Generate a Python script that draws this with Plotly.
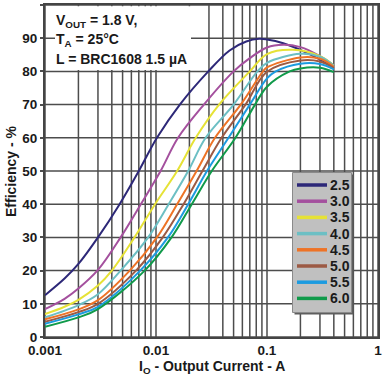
import math
import plotly.graph_objects as go

# ---------------- data ----------------
series_names = ["2.5", "3.0", "3.5", "4.0", "4.5", "5.0", "5.5", "6.0"]

i_25 = [0.001, 0.0015, 0.002, 0.003, 0.0047, 0.007, 0.0102, 0.0164, 0.0296, 0.046, 0.065, 0.085, 0.1, 0.14, 0.2, 0.3, 0.4]
e_25 = [12.6, 17.6, 22.0, 30, 40, 50, 60, 70, 80, 86.3, 89.0, 89.8, 89.6, 88.5, 86.5, 83.6, 81.5]

i_30 = [0.001, 0.0015, 0.002, 0.003, 0.0048, 0.0073, 0.011, 0.0158, 0.027, 0.05, 0.07, 0.1, 0.14, 0.2, 0.3, 0.4]
e_30 = [8.4, 11.5, 14.6, 20.2, 30, 40, 50, 60, 70, 80, 84, 87.2, 88.0, 87.3, 84.6, 81.8]

i_35 = [0.001, 0.0015, 0.002, 0.003, 0.004, 0.0064, 0.0098, 0.0155, 0.0228, 0.037, 0.07, 0.1, 0.17, 0.3, 0.4]
e_35 = [6.9, 9.1, 11.2, 15.5, 20, 30, 40, 50, 60, 70, 80, 85.2, 86.5, 84.6, 81.8]

i_40 = [0.001, 0.002, 0.003, 0.0048, 0.0085, 0.013, 0.0195, 0.028, 0.05, 0.082, 0.1, 0.2, 0.3, 0.4]
e_40 = [5.9, 9.6, 12.9, 20, 30, 40, 50, 60, 70, 80, 82.6, 85.3, 84.4, 81.7]

i_45 = [0.001, 0.002, 0.003, 0.0058, 0.0102, 0.0155, 0.0232, 0.034, 0.058, 0.092, 0.1, 0.2, 0.3, 0.4]
e_45 = [5.3, 8.3, 11.1, 20, 30, 40, 50, 60, 70, 80, 81.2, 84.2, 83.8, 81.4]

i_50 = [0.001, 0.002, 0.003, 0.0066, 0.0115, 0.0177, 0.0262, 0.039, 0.064, 0.1, 0.2, 0.3, 0.4]
e_50 = [4.6, 7.5, 10.0, 20, 30, 40, 50, 60, 70, 79.9, 83.3, 83.0, 81.0]

i_55 = [0.001, 0.002, 0.003, 0.0072, 0.0128, 0.0195, 0.0288, 0.045, 0.07, 0.1, 0.12, 0.2, 0.3, 0.4]
e_55 = [4.0, 6.8, 9.1, 20, 30, 40, 50, 60, 70, 77.9, 80, 82.3, 82.2, 80.6]

i_60 = [0.001, 0.002, 0.003, 0.0079, 0.0138, 0.021, 0.0318, 0.052, 0.078, 0.1, 0.16, 0.2, 0.3, 0.4]
e_60 = [3.1, 5.9, 8.4, 20, 30, 40, 50, 60, 70, 75.4, 80, 80.9, 81.1, 79.8]

x_grid_vals = [m * 10.0 ** k for k in (-3, -2, -1) for m in range(1, 10)] + [1.0]
x_tick_vals = [0.001, 0.01, 0.1, 1.0]
x_tick_text = ["0.001", "0.01", "0.1", "1"]
y_tick_vals = list(range(0, 101, 10))

# ---------------- styling ----------------
colors = ["#2d2878", "#a4509e", "#e6e236", "#6cbfc4", "#ee7326", "#9c5a44", "#1c9be0", "#109a4a"]
FONT = "Liberation Sans, Arial, Helvetica, sans-serif"
GRID = "#4d4d4d"
X_MIN, X_MAX = 0.001, 1.0

W, H = 391, 383
ML, MR, MT, MB = 45, 13, 5, 46
PW, PH = W - ML - MR, H - MT - MB


def px_x(p):
    return (p - ML) / PW


def px_y(p):
    return (H - MB - p) / PH


def xfrac(v):
    return (math.log10(v) - math.log10(X_MIN)) / (math.log10(X_MAX) - math.log10(X_MIN))


all_i = [i_25, i_30, i_35, i_40, i_45, i_50, i_55, i_60]
all_e = [e_25, e_30, e_35, e_40, e_45, e_50, e_55, e_60]

fig = go.Figure()
for name, xs, ys, c in zip(series_names, all_i, all_e, colors):
    fig.add_trace(go.Scatter(
        x=xs, y=ys, mode="lines", name=name,
        line=dict(color=c, width=2, shape="spline", smoothing=1.0),
        showlegend=False, hoverinfo="skip",
    ))

shapes = []
annotations = []

# grid lines
for v in x_grid_vals:
    shapes.append(dict(type="line", xref="paper", yref="paper",
                       x0=xfrac(v), x1=xfrac(v), y0=0, y1=1,
                       line=dict(color=GRID, width=1.5), layer="below"))
for v in y_tick_vals:
    shapes.append(dict(type="line", xref="paper", yref="y",
                       x0=0, x1=1, y0=v, y1=v,
                       line=dict(color=GRID, width=1.5), layer="below"))

# white box behind the condition text
shapes.append(dict(type="rect", xref="paper", yref="paper",
                   x0=px_x(55), x1=px_x(191), y0=px_y(70), y1=px_y(6.3),
                   fillcolor="white", line=dict(width=0), layer="above"))

bold = dict(family=FONT, size=14, color="#1a1a1a", weight="bold")
cond_lines = [("V<sub>OUT</sub> = 1.8 V,", 21), ("T<sub>A</sub> = 25°C", 40), ("L = BRC1608 1.5 µA", 59)]
for txt, yy in cond_lines:
    annotations.append(dict(text=txt, xref="paper", yref="paper", x=px_x(54), y=px_y(yy),
                            xanchor="left", yanchor="middle", showarrow=False, font=bold))

# legend box (drawn manually to match spacing)
shapes.append(dict(type="rect", xref="paper", yref="paper",
                   x0=px_x(294.5), x1=px_x(353.5), y0=px_y(314.5), y1=px_y(174.5),
                   fillcolor="#5e5e5e", line=dict(width=0), layer="above"))
shapes.append(dict(type="rect", xref="paper", yref="paper",
                   x0=px_x(292.5), x1=px_x(351.5), y0=px_y(312.5), y1=px_y(172.5),
                   fillcolor="#c0c0c0", line=dict(color="#8a8a8a", width=1), layer="above"))
for k, (name, c) in enumerate(zip(series_names, colors)):
    yy = 185 + 16.2 * k
    shapes.append(dict(type="line", xref="paper", yref="paper",
                       x0=px_x(297), x1=px_x(327), y0=px_y(yy), y1=px_y(yy),
                       line=dict(color=c, width=3.5), layer="above"))
    annotations.append(dict(text=name, xref="paper", yref="paper", x=px_x(327.5), y=px_y(yy),
                            xanchor="left", yanchor="middle", showarrow=False, font=bold))

# axis titles
annotations.append(dict(text="I<sub>O</sub> - Output Current - A", xref="paper", yref="paper",
                        x=px_x(212), y=px_y(367), xanchor="center", yanchor="middle",
                        showarrow=False, font=bold))
annotations.append(dict(text="Efficiency - %", xref="paper", yref="paper",
                        x=px_x(11), y=px_y(171), xanchor="center", yanchor="middle",
                        textangle=-90, showarrow=False, font=bold))

fig.update_layout(
    template="none",
    width=W, height=H,
    margin=dict(l=ML, r=MR, t=MT, b=MB, pad=0),
    paper_bgcolor="white", plot_bgcolor="white",
    font=dict(family=FONT, size=13.5, color="#1a1a1a", weight="bold"),
    shapes=shapes, annotations=annotations,
    showlegend=False,
)

fig.update_xaxes(
    type="log", range=[math.log10(X_MIN), math.log10(X_MAX)],
    tickmode="array", tickvals=x_tick_vals, ticktext=x_tick_text,
    showgrid=False,
    showline=True, linecolor="#444444", linewidth=2, mirror=True,
    ticks="", ticklabelstandoff=0,
    zeroline=False, automargin=False,
)
fig.update_yaxes(
    range=[0, 100], tickmode="array", tickvals=y_tick_vals,
    showgrid=False,
    showline=True, linecolor="#444444", linewidth=2, mirror=True,
    ticks="outside", ticklen=3, tickcolor=GRID, tickwidth=1.5,
    zeroline=False, automargin=False,
)

fig.write_html(
    "out.html",
    config={"displayModeBar": False},
    post_script="document.body.style.margin='0';document.body.style.padding='0';",
)
